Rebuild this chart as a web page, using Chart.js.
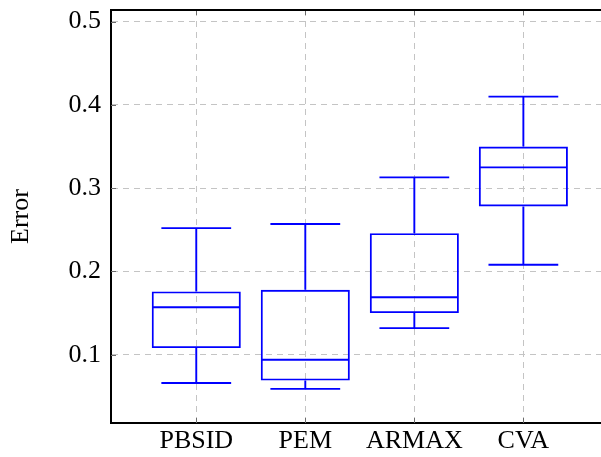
<!DOCTYPE html>
<html>
<head>
<meta charset="utf-8">
<script src="https://cdn.jsdelivr.net/npm/chart.js@4.4.1/dist/chart.umd.min.js"></script>
<style>
html,body{margin:0;padding:0;background:#fff;overflow:hidden;}
#wrap{width:601px;height:457px;}
</style>
</head>
<body>
<div id="wrap"><canvas id="boxChart" width="601" height="457"></canvas></div>
<script>
const categories=['PBSID','PEM','ARMAX','CVA'];
const positions=[1,2,3,4];
const lowerWhisker=[0.066,0.059,0.132,0.208];
const lowerQuartile=[0.108,0.069,0.150,0.278];
const median=[0.157,0.094,0.169,0.325];
const upperQuartile=[0.176,0.178,0.246,0.350];
const upperWhisker=[0.252,0.257,0.313,0.410];
const yTicks=[0.1,0.2,0.3,0.4,0.5];

const BLUE='#0000ff';
const FONT="'Liberation Serif','Times New Roman',serif";
const LW=1.9;

// whiskers, caps and median lines, drawn through the scales
const boxExtras={
    id:'boxExtras',
    beforeDatasetsDraw(chart){
        const {ctx,chartArea,scales}=chart;
        const xs=scales.x, ys=scales.y;
        // little inward tick marks like a framed axis
        ctx.save();
        ctx.strokeStyle='#6a6a6a';
        ctx.lineWidth=1;
        ctx.beginPath();
        positions.forEach(v=>{
            const px=Math.round(xs.getPixelForValue(v))+0.5;
            ctx.moveTo(px,chartArea.top);ctx.lineTo(px,chartArea.top+5);
            ctx.moveTo(px,chartArea.bottom);ctx.lineTo(px,chartArea.bottom-5);
        });
        yTicks.forEach(v=>{
            const py=Math.round(ys.getPixelForValue(v))+0.5;
            ctx.moveTo(chartArea.left,py);ctx.lineTo(chartArea.left+5,py);
        });
        ctx.stroke();
        ctx.restore();
    },
    afterDatasetsDraw(chart){
        const {ctx,scales}=chart;
        const xs=scales.x, ys=scales.y;
        const half=0.4, cap=0.32;
        ctx.save();
        ctx.strokeStyle=BLUE;
        ctx.lineWidth=LW;
        ctx.beginPath();
        positions.forEach((p,i)=>{
            const cx=xs.getPixelForValue(p);
            const bl=xs.getPixelForValue(p-half), br=xs.getPixelForValue(p+half);
            const cl=xs.getPixelForValue(p-cap), cr=xs.getPixelForValue(p+cap);
            const m=ys.getPixelForValue(median[i]);
            ctx.moveTo(bl,m);ctx.lineTo(br,m);
            ctx.moveTo(cx,ys.getPixelForValue(upperQuartile[i]));
            ctx.lineTo(cx,ys.getPixelForValue(upperWhisker[i]));
            ctx.moveTo(cx,ys.getPixelForValue(lowerQuartile[i]));
            ctx.lineTo(cx,ys.getPixelForValue(lowerWhisker[i]));
            const up=ys.getPixelForValue(upperWhisker[i]);
            const lo=ys.getPixelForValue(lowerWhisker[i]);
            ctx.moveTo(cl,up);ctx.lineTo(cr,up);
            ctx.moveTo(cl,lo);ctx.lineTo(cr,lo);
        });
        ctx.stroke();
        ctx.restore();
    },
    afterDraw(chart){
        // top frame line
        const {ctx,chartArea}=chart;
        ctx.save();
        ctx.strokeStyle='#000';
        ctx.lineWidth=2;
        ctx.beginPath();
        ctx.moveTo(chartArea.left-1,chartArea.top);
        ctx.lineTo(chartArea.right,chartArea.top);
        ctx.stroke();
        ctx.restore();
    }
};

const ctx=document.getElementById('boxChart').getContext('2d');
new Chart(ctx,{
    type:'bar',
    data:{
        datasets:[{
            data:positions.map((p,i)=>({x:p,y:[lowerQuartile[i],upperQuartile[i]]})),
            backgroundColor:'rgba(0,0,0,0)',
            borderColor:BLUE,
            borderWidth:LW,
            borderSkipped:false,
            barPercentage:0.817,
            categoryPercentage:1
        }]
    },
    plugins:[boxExtras],
    options:{
        responsive:false,
        animation:false,
        layout:{padding:{top:10,right:0,bottom:0,left:0}},
        plugins:{legend:{display:false},tooltip:{enabled:false}},
        scales:{
            x:{
                type:'linear',
                offset:false,
                min:0.218,
                max:4.712,
                afterBuildTicks:axis=>{axis.ticks=positions.map(v=>({value:v}));},
                afterFit:axis=>{axis.height=34;axis.paddingLeft=0;axis.paddingRight=0;},
                ticks:{
                    padding:3,
                    color:'#000',
                    font:{family:FONT,size:26},
                    callback:(v)=>categories[positions.indexOf(v)]||''
                },
                grid:{color:'#c4c4c4',lineWidth:1,offset:false,drawTicks:false,borderDash:[6,5]},
                border:{display:true,color:'#000',width:2,dash:[6,5]}
            },
            y:{
                min:0.018,
                max:0.514,
                afterBuildTicks:axis=>{axis.ticks=yTicks.map(v=>({value:v}));},
                afterFit:axis=>{axis.width=111;axis.paddingTop=0;axis.paddingBottom=0;},
                ticks:{
                    padding:10,
                    color:'#000',
                    font:{family:FONT,size:26},
                    callback:(v)=>v.toFixed(1)
                },
                title:{
                    display:true,
                    text:'Error',
                    color:'#000',
                    font:{family:FONT,size:26},
                    padding:{top:6,bottom:0}
                },
                grid:{color:'#c4c4c4',lineWidth:1,drawTicks:false,borderDash:[6,5]},
                border:{display:true,color:'#000',width:2,dash:[6,5]}
            }
        }
    }
});
</script>
</body>
</html>
